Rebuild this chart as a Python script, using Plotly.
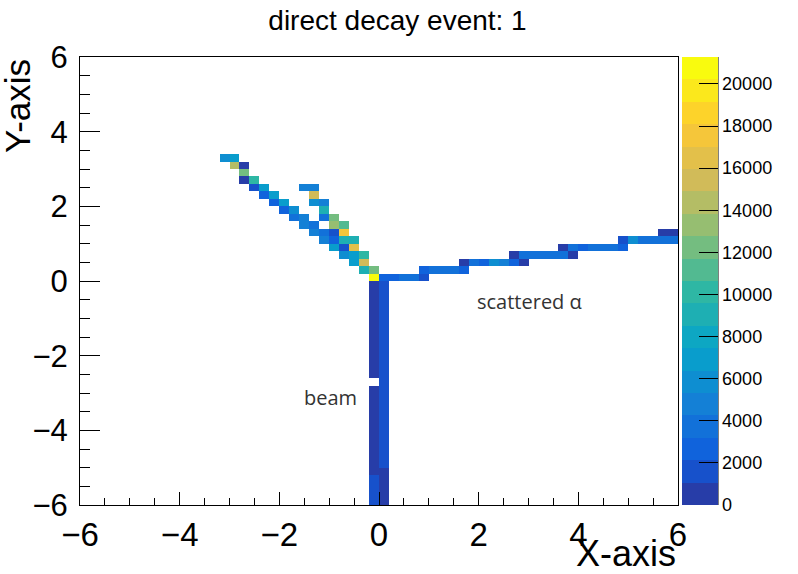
import numpy as np
import plotly.graph_objects as go

# ---------------- data (bin centres, bin contents) ----------------
# two converging tracks in the upper-left
diag_x = [-3.1, -2.9, -2.9, -2.7, -2.7, -2.7, -2.5, -2.5, -2.3, -1.5, -1.3,
          -2.3, -2.1, -1.3, -2.1, -1.9, -1.3, -1.1, -1.9, -1.7, -1.1,
          -1.7, -1.5, -1.1, -0.9, -1.5, -1.3, -0.9, -0.7, -1.3, -1.1, -0.9, -0.7,
          -1.1, -0.9, -0.7, -0.5, -0.9, -0.7, -0.5, -0.7, -0.5, -0.3,
          -0.5, -0.3, -0.3, -0.1, -0.1]
diag_y = [3.3, 3.3, 3.1, 3.1, 2.9, 2.7, 2.7, 2.5, 2.5, 2.5, 2.5,
          2.3, 2.3, 2.3, 2.1, 2.1, 2.1, 2.1, 1.9, 1.9, 1.9,
          1.7, 1.7, 1.7, 1.7, 1.5, 1.5, 1.5, 1.5, 1.3, 1.3, 1.3, 1.3,
          1.1, 1.1, 1.1, 1.1, 0.9, 0.9, 0.9, 0.7, 0.7, 0.7,
          0.5, 0.5, 0.3, 0.3, 0.1]
diag_z = [5900, 6900, 14400, 500, 12200, 500, 10100, 1600, 6900, 4800, 4800,
          2700, 6900, 15400, 2700, 6900, 5900, 4800, 2700, 5900, 9000,
          3700, 4800, 3700, 12200, 4800, 3700, 13300, 11200, 4800, 3700, 1600, 17600,
          4800, 2700, 9000, 9000, 6900, 1600, 16500, 5900, 6900, 10100,
          6900, 15400, 9000, 12200, 21280]

# scattered alpha track to the right
arm_x = [0.1, 0.3, 0.5, 0.7, 0.9,
         0.9, 1.1, 1.3, 1.5, 1.7,
         1.7, 1.9, 2.1, 2.3, 2.5, 2.7, 2.9,
         2.7, 2.9, 3.1, 3.3, 3.5, 3.7, 3.9,
         3.7, 3.9, 4.1, 4.3, 4.5, 4.7, 4.9,
         4.9, 5.1, 5.3, 5.5, 5.7, 5.9,
         5.7, 5.9]
arm_y = [0.1, 0.1, 0.1, 0.1, 0.1,
         0.3, 0.3, 0.3, 0.3, 0.3,
         0.5, 0.5, 0.5, 0.5, 0.5, 0.5, 0.5,
         0.7, 0.7, 0.7, 0.7, 0.7, 0.7, 0.7,
         0.9, 0.9, 0.9, 0.9, 0.9, 0.9, 0.9,
         1.1, 1.1, 1.1, 1.1, 1.1, 1.1,
         1.3, 1.3]
arm_z = [2700, 2700, 3700, 3700, 1600,
         2700, 3700, 3700, 3700, 2700,
         500, 3700, 2700, 5900, 4800, 2700, 500,
         500, 3700, 3700, 3700, 3700, 3700, 500,
         500, 3700, 2700, 3700, 3700, 3700, 2700,
         1600, 5900, 3700, 3700, 3700, 3700,
         500, 500]

# beam: two columns, y from -5.9 to -0.1
beam_y = [-5.9, -5.7, -5.5, -5.3, -5.1, -4.9, -4.7, -4.5, -4.3, -4.1,
          -3.9, -3.7, -3.5, -3.3, -3.1, -2.9, -2.7, -2.5, -2.3, -2.1,
          -1.9, -1.7, -1.5, -1.3, -1.1, -0.9, -0.7, -0.5, -0.3, -0.1]
beam_left_x = -0.1
beam_left = [1600, 1600, 1600, 1600, 500, 500, 500, 500, 500, 500,
             500, 500, 500, 500, 500, 500, None, 500, 500, 500,
             500, 500, 500, 500, 500, 500, 500, 500, 500, 500]
beam_right_x = 0.1
beam_right = [500, 500, 500, 500, 500, 1600, 1600, 1600, 1600, 1600,
              1600, 1600, 1600, 1600, 1600, 1600, 1600, 1600, 1600, 1600,
              1600, 1600, 1600, 1600, 1600, 1600, 1600, 1600, 1600, 1600]

z_max = 21280
x_ticks = [-6, -4, -2, 0, 2, 4, 6]
y_ticks = [-6, -4, -2, 0, 2, 4, 6]
cbar_ticks = [0, 2000, 4000, 6000, 8000, 10000, 12000, 14000, 16000, 18000, 20000]

# ---------------- histogram grid ----------------
nb = 60
centers = np.round(np.linspace(-5.9, 5.9, nb), 2)
Z = [[None] * nb for _ in range(nb)]


def idx(v):
    return int(round((v + 5.9) / 0.2))


for xs, ys, zs in [(diag_x, diag_y, diag_z), (arm_x, arm_y, arm_z)]:
    for xv, yv, zv in zip(xs, ys, zs):
        Z[idx(yv)][idx(xv)] = zv
for yv, zv in zip(beam_y, beam_left):
    if zv is not None:
        Z[idx(yv)][idx(beam_left_x)] = zv
for yv, zv in zip(beam_y, beam_right):
    if zv is not None:
        Z[idx(yv)][idx(beam_right_x)] = zv

# ---------------- ROOT kBird palette, 20 contour levels ----------------
stops = [0.0, 0.125, 0.25, 0.375, 0.5, 0.625, 0.75, 0.875, 1.0]
red = [0.2082, 0.0592, 0.0780, 0.0232, 0.1802, 0.5301, 0.8186, 0.9956, 0.9764]
green = [0.1664, 0.3599, 0.5041, 0.6419, 0.7178, 0.7492, 0.7328, 0.7862, 0.9832]
blue = [0.5293, 0.8684, 0.8385, 0.7914, 0.6425, 0.4662, 0.3499, 0.1968, 0.0539]
ndiv = 20
ncol = 255
scale = []
for k in range(ndiv):
    ci = int((k + 0.99) * ncol / ndiv)
    t = ci / (ncol - 1)
    r = np.interp(t, stops, red)
    g = np.interp(t, stops, green)
    b = np.interp(t, stops, blue)
    col = "rgb(%d,%d,%d)" % (round(r * 255), round(g * 255), round(b * 255))
    scale.append([k / ndiv, col])
    scale.append([(k + 1) / ndiv, col])

L, R, T, B = 80, 120, 57, 69
W, H = 798, 574
pw = W - L - R

fig = go.Figure()
fig.add_trace(go.Heatmap(
    x=centers, y=centers, z=Z,
    zmin=0, zmax=z_max, colorscale=scale,
    hoverongaps=False,
    colorbar=dict(
        x=(682 - L) / pw, xanchor="left", xpad=0,
        y=0.5, yanchor="middle", ypad=0, len=1, lenmode="fraction",
        thickness=36, outlinewidth=0,
        tickmode="array", tickvals=cbar_ticks, tickformat="d",
        ticks="inside", ticklen=19, tickcolor="black", tickwidth=1,
        tickfont=dict(family="Liberation Sans", size=18, color="black"),
    ),
))

axis_common = dict(
    showgrid=False, zeroline=False, showline=True, linecolor="black",
    linewidth=1, mirror=True, ticks="inside", tickcolor="black",
    tickwidth=1,
)
fig.update_xaxes(range=[-6, 6], tickvals=x_ticks, ticklen=13,
                 tickfont=dict(family="Liberation Sans", size=33, color="black"),
                 minor=dict(dtick=0.5, ticks="inside", ticklen=7, tickcolor="black"),
                 **axis_common)
fig.update_yaxes(range=[-6, 6], tickvals=y_ticks, ticklen=20,
                 ticklabelstandoff=5,
                 tickfont=dict(family="Liberation Sans", size=31, color="black"),
                 minor=dict(dtick=0.5, ticks="inside", ticklen=10, tickcolor="black"),
                 **axis_common)

fig.add_shape(type="line", xref="paper", yref="paper",
              x0=(718 - L) / pw, x1=(718 - L) / pw, y0=0, y1=1,
              line=dict(color="black", width=1))

fig.add_annotation(text="X-axis", xref="paper", yref="paper",
                   x=1.0, y=(H - B - 553) / (H - T - B), xanchor="right", yanchor="middle",
                   showarrow=False,
                   font=dict(family="Liberation Sans", size=36, color="black"))
fig.add_annotation(text="Y-axis", xref="paper", yref="paper",
                   x=(17 - L) / pw, y=1.0, xanchor="center", yanchor="top",
                   textangle=-90, showarrow=False,
                   font=dict(family="Liberation Sans", size=35, color="black"))
fig.add_annotation(text="beam", x=-0.98, y=-3.11, showarrow=False,
                   font=dict(family="Open Sans", size=20, color="#333333"))
fig.add_annotation(text="scattered α", x=3.02, y=-0.56, showarrow=False,
                   font=dict(family="Open Sans", size=20, color="#333333"))

fig.update_layout(
    width=W, height=H,
    margin=dict(l=L, r=R, t=T, b=B, autoexpand=False),
    paper_bgcolor="white", plot_bgcolor="white",
    title=dict(text="direct decay event: 1", x=397.5 / W, xanchor="center",
               y=1 - 20 / H, yanchor="middle",
               font=dict(family="Liberation Sans", size=28, color="black")),
    showlegend=False,
)

fig.write_html("out.html", config={"displayModeBar": False},
               post_script="document.body.style.margin='0px';document.body.style.overflow='hidden';")
